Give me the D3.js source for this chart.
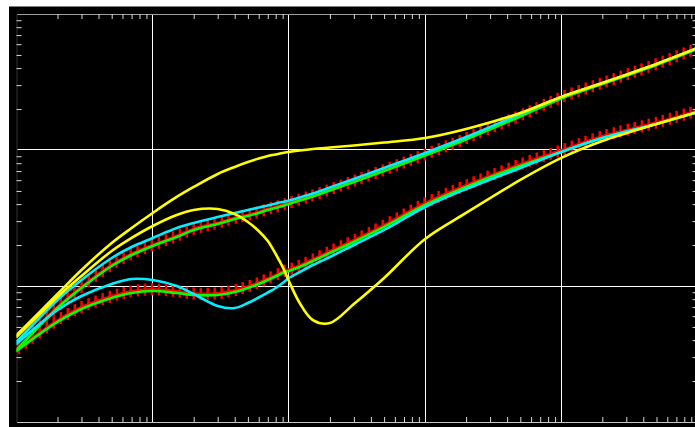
<!DOCTYPE html>
<html>
<head>
<meta charset="utf-8">
<script src="https://cdn.jsdelivr.net/npm/d3@7"></script>
<style>
  body { margin: 0; background: #fff; }
  svg { display: block; }
  .curve { fill: none; stroke-width: 2.6px; stroke-linejoin: round; stroke-linecap: round; }
  .grid line { stroke: #fff; stroke-width: 1px; shape-rendering: crispEdges; }
  .axis .tick line { stroke: #d8d8d8; }
  .axis text { display: none; }
</style>
</head>
<body>
<svg id="chart" width="695" height="427"></svg>
<script>
// frequency samples shared by all curves (log axis, 5 decades)
const freq = [1, 2, 3, 5, 7, 10, 15, 20, 30, 40, 50, 60, 70, 80, 90, 100, 120, 150, 200, 300, 500,
              1000, 2000, 5000, 10000, 20000, 50000, 100000];

// upper family
const upperRed    = [0.345, 0.70, 0.985, 1.43, 1.72, 2.0, 2.33, 2.63, 2.91, 3.16, 3.33, 3.5, 3.68, 3.81, 3.95, 4.08, 4.33, 4.64, 5.13, 5.93, 7.14, 9.28, 12.2, 17.95, 24.4, 31.1, 42.9, 56.3];
const upperGreen  = [0.338, 0.689, 0.967, 1.403, 1.690, 1.969, 2.293, 2.582, 2.858, 3.110, 3.273, 3.444, 3.624, 3.748, 3.878, 4.011, 4.254, 4.551, 5.038, 5.823, 7.011, 9.112, 11.95, 17.63, 23.92, 30.53, 42.16, 55.33];
const upperCyan   = [0.388, 0.789, 1.107, 1.607, 1.936, 2.255, 2.671, 2.907, 3.218, 3.444, 3.624, 3.780, 3.908, 4.045, 4.149, 4.254, 4.474, 4.788, 5.302, 6.122, 7.383, 9.519, 12.46, 18.38, 24.54, 31.05, 42.88, 56.27];
const upperYellow = [0.436, 0.873, 1.311, 2.071, 2.671, 3.444, 4.516, 5.350, 6.665, 7.509, 8.161, 8.660, 9.047, 9.268, 9.519, 9.682, 9.916, 10.17, 10.43, 10.79, 11.35, 12.25, 14.27, 18.70, 24.54, 31.05, 42.88, 56.27];

// lower family
const lowerRed    = [0.34, 0.56, 0.70, 0.84, 0.915, 0.945, 0.915, 0.88, 0.885, 0.93, 0.99, 1.06, 1.135, 1.2, 1.28, 1.32, 1.415, 1.57, 1.8, 2.17, 2.8, 4.06, 5.5, 7.85, 9.95, 12.6, 15.9, 19.5];
const lowerGreen  = [0.333, 0.544, 0.677, 0.816, 0.888, 0.919, 0.888, 0.859, 0.859, 0.903, 0.967, 1.034, 1.107, 1.175, 1.246, 1.289, 1.379, 1.527, 1.748, 2.107, 2.717, 3.944, 5.350, 7.637, 9.682, 12.25, 15.54, 19.01];
const lowerCyan   = [0.375, 0.666, 0.844, 1.034, 1.126, 1.107, 1.0, 0.873, 0.713, 0.689, 0.750, 0.823, 0.896, 0.967, 1.052, 1.145, 1.267, 1.427, 1.634, 2.002, 2.582, 3.812, 5.172, 7.383, 9.682, 12.25, 15.54, 19.01];
const lowerYellow = [0.422, 0.830, 1.185, 1.809, 2.255, 2.762, 3.327, 3.624, 3.685, 3.386, 2.957, 2.539, 2.143, 1.719, 1.379, 1.088, 0.750, 0.562, 0.534, 0.737, 1.145, 2.217, 3.444, 6.024, 8.746, 11.65, 15.54, 19.01];

const svg = d3.select("#chart");
const plot = {left: 16.5, right: 697.5, top: 14, bottom: 422};

const x = d3.scaleLog().domain([1, 100000]).range([plot.left, plot.right]);
const y = d3.scaleLog().domain([0.1, 100]).range([plot.bottom, plot.top]);

// black panel with thin grey top rim
svg.append("rect").attr("x", 9).attr("y", 6).attr("width", 686).attr("height", 421).attr("fill", "#000");
svg.append("line").attr("x1", 9).attr("x2", 695).attr("y1", 6.5).attr("y2", 6.5).attr("stroke", "#7c7c7c");

svg.append("clipPath").attr("id", "clip")
  .append("rect")
  .attr("x", plot.left).attr("y", plot.top)
  .attr("width", plot.right - plot.left).attr("height", plot.bottom - plot.top);

// decade grid
const isDecade = v => Math.abs(Math.log10(v) - Math.round(Math.log10(v))) < 1e-9;
const grid = svg.append("g").attr("class", "grid");
grid.selectAll("line.vx")
  .data(x.ticks().filter(isDecade).slice(1, -1))
  .enter().append("line")
  .attr("x1", d => Math.floor(x(d)) + 0.5).attr("x2", d => Math.floor(x(d)) + 0.5)
  .attr("y1", plot.top).attr("y2", plot.bottom);
grid.selectAll("line.hy")
  .data(y.ticks().filter(isDecade).slice(1, -1))
  .enter().append("line")
  .attr("y1", d => Math.floor(y(d)) + 0.5).attr("y2", d => Math.floor(y(d)) + 0.5)
  .attr("x1", plot.left).attr("x2", plot.right);

// minor ticks on all four sides, no labels
const minorX = x.ticks().filter(d => !isDecade(d));
const minorY = y.ticks().filter(d => !isDecade(d));

function styleAxis(g, color) {
  g.attr("class", "axis");
  g.select("path.domain").attr("stroke", color);
}
svg.append("g").attr("transform", `translate(0,${plot.bottom})`)
  .call(d3.axisBottom(x).tickValues(minorX).tickSize(-5).tickSizeOuter(0).tickFormat(""))
  .call(styleAxis, "#c8c8c8");
svg.append("g").attr("transform", `translate(0,${plot.top})`)
  .call(d3.axisTop(x).tickValues(minorX).tickSize(-5).tickSizeOuter(0).tickFormat(""))
  .call(styleAxis, "#9c9c9c");
svg.append("g").attr("transform", `translate(${plot.left},0)`)
  .call(d3.axisLeft(y).tickValues(minorY).tickSize(-5).tickSizeOuter(0).tickFormat(""))
  .call(styleAxis, "#333");
svg.append("g").attr("transform", `translate(${plot.right},0)`)
  .call(d3.axisRight(y).tickValues(minorY).tickSize(-5).tickSizeOuter(0).tickFormat(""))
  .call(styleAxis, "#333");

const series = [
  {values: upperRed,    color: "#ff0000", bars: true},
  {values: lowerRed,    color: "#ff0000", bars: true},
  {values: upperGreen,  color: "#00ff00"},
  {values: lowerGreen,  color: "#00ff00"},
  {values: upperCyan,   color: "#00f0ff"},
  {values: lowerCyan,   color: "#00f0ff"},
  {values: upperYellow, color: "#ffff00"},
  {values: lowerYellow, color: "#ffff00"}
];

const line = d3.line()
  .curve(d3.curveCatmullRom.alpha(0.5))
  .x(d => x(d[0]))
  .y(d => y(d[1]));

const curves = svg.append("g").attr("clip-path", "url(#clip)");

// walk along a drawn path and pick a point every `step` px in x
function barPoints(node, step) {
  const total = node.getTotalLength();
  const pts = [];
  let nextX = plot.left + 2;
  for (let l = 0; l <= total; l += 0.5) {
    const p = node.getPointAtLength(l);
    if (p.x >= nextX) { pts.push(p); nextX += step; }
  }
  return pts;
}

series.forEach(s => {
  const path = curves.append("path")
    .datum(freq.map((f, i) => [f, s.values[i]]))
    .attr("class", "curve")
    .attr("stroke", s.color)
    .attr("d", line);

  if (s.bars) { // short vertical bars along the measured curve
    curves.selectAll(null)
      .data(barPoints(path.node(), 7))
      .enter().append("rect")
      .attr("x", d => d.x - 1.25).attr("y", d => d.y - 6)
      .attr("width", 2.5).attr("height", 12)
      .attr("fill", s.color);
  }
});
</script>
</body>
</html>
